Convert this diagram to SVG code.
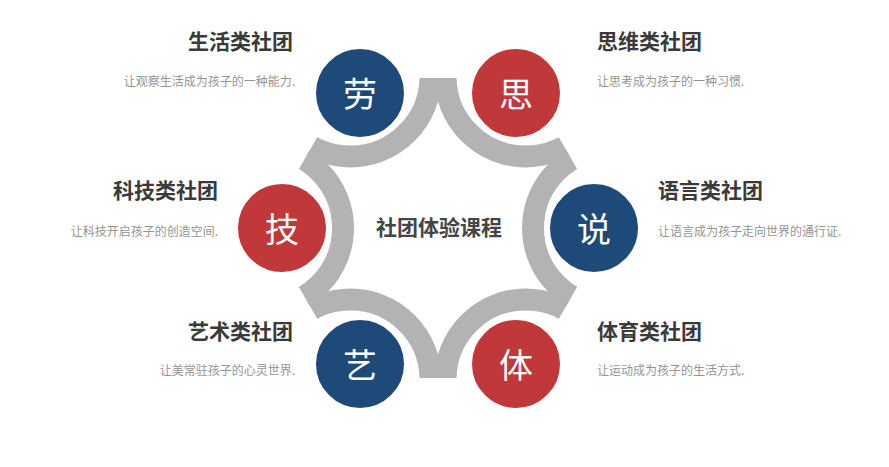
<svg xmlns="http://www.w3.org/2000/svg" width="889" height="467" viewBox="0 0 889 467">
<style>
.band{fill:none;stroke:#b3b3b3;stroke-width:22}
.dot{stroke:#ffffff;stroke-width:4}
.blue{fill:#1e4a7a}
.red{fill:#c1383a}
.ch{font-family:"Noto Sans CJK SC",sans-serif;font-size:34px;fill:#ffffff;text-anchor:middle}
.ttl{font-family:"Noto Sans CJK SC",sans-serif;font-size:21px;font-weight:bold;fill:#3a3a3a}
.sub{font-family:"Noto Sans CJK SC",sans-serif;font-size:12px;fill:#949494}
.center{font-family:"Noto Sans CJK SC",sans-serif;font-size:21px;font-weight:bold;fill:#454545;text-anchor:middle}
.end{text-anchor:end}
</style>
<defs>
<clipPath id="hex">
<polygon points="611.2,228 524.6,378 351.4,378 264.8,228 351.4,78 524.6,78"/>
</clipPath>
</defs>
<rect width="889" height="467" fill="#ffffff"/>
<g id="ring" clip-path="url(#hex)">
<circle class="band" cx="263" cy="228" r="80"/>
<circle class="band" cx="613" cy="228" r="80"/>
<circle class="band" cx="350.5" cy="76.5" r="80"/>
<circle class="band" cx="525.5" cy="76.5" r="80"/>
<circle class="band" cx="350.5" cy="379.5" r="80"/>
<circle class="band" cx="525.5" cy="379.5" r="80"/>
</g>
<g id="center">
<text class="center" x="439" y="235">社团体验课程</text>
</g>
<g id="node-lao">
<circle class="dot blue" cx="360" cy="93" r="46"/>
<text class="ch" x="360" y="107">劳</text>
<text class="ttl end" x="293" y="49">生活类社团</text>
<text class="sub end" x="295" y="86">让观察生活成为孩子的一种能力.</text>
</g>
<g id="node-si">
<circle class="dot red" cx="516" cy="93" r="46"/>
<text class="ch" x="516" y="107">思</text>
<text class="ttl" x="597" y="49">思维类社团</text>
<text class="sub" x="597" y="86">让思考成为孩子的一种习惯.</text>
</g>
<g id="node-ji">
<circle class="dot red" cx="282" cy="228" r="46"/>
<text class="ch" x="282" y="242">技</text>
<text class="ttl end" x="218" y="198">科技类社团</text>
<text class="sub end" x="218" y="236">让科技开启孩子的创造空间.</text>
</g>
<g id="node-shuo">
<circle class="dot blue" cx="594" cy="228" r="46"/>
<text class="ch" x="594" y="242">说</text>
<text class="ttl" x="658" y="198">语言类社团</text>
<text class="sub" x="658" y="236">让语言成为孩子走向世界的通行证.</text>
</g>
<g id="node-yi">
<circle class="dot blue" cx="360" cy="364" r="46"/>
<text class="ch" x="360" y="378">艺</text>
<text class="ttl end" x="293" y="339">艺术类社团</text>
<text class="sub end" x="295" y="375">让美常驻孩子的心灵世界.</text>
</g>
<g id="node-ti">
<circle class="dot red" cx="516" cy="364" r="46"/>
<text class="ch" x="516" y="378">体</text>
<text class="ttl" x="597" y="339">体育类社团</text>
<text class="sub" x="597" y="375">让运动成为孩子的生活方式.</text>
</g>
</svg>
